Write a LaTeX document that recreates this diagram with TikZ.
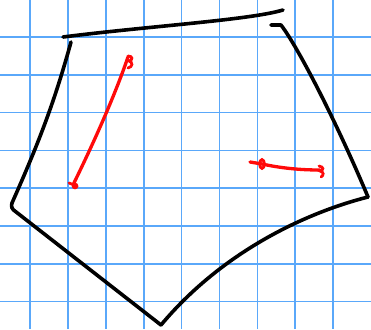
\documentclass[tikz,border=0pt]{standalone}
\usepackage{xcolor}
\usepackage{tikz}
\usetikzlibrary{calc}
\definecolor{gridblue}{HTML}{5AA8FA}
\definecolor{ink}{HTML}{000000}
\definecolor{pen}{HTML}{FF0A0A}
\tikzset{
  gridline/.style = {draw=gridblue, line width=1.7pt},
  outline/.style  = {draw=ink, line width=3.6pt, line cap=round, line join=round},
  redline/.style  = {draw=pen, line width=3.3pt, line cap=round, line join=round},
  curl/.style     = {draw=pen, line width=2.8pt, line cap=round},
  blob/.style     = {fill=pen, draw=pen, line width=1pt},
}

\begin{document}
\begin{tikzpicture}[x=1pt, y=-1pt]

  % Paper and grid
  \fill[white] (0,0) rectangle (371,329);
  \useasboundingbox (0,0) rectangle (371,329);
  \foreach \gx in {0,...,8}
    \draw[gridline] ({30+37.9*\gx},0) -- ({30+37.9*\gx},329);
  \foreach \gy in {0,...,7}
    \draw[gridline] (0,{37+37.8*\gy}) -- (371,{37+37.8*\gy});

  % Corners of the outline
  \coordinate (topl)  at (63,37);
  \coordinate (topr)  at (283,10);
  \coordinate (hook)  at (271,25);
  \coordinate (rtop)  at (281,25);
  \coordinate (rcorn) at (368,197);
  \coordinate (bot)   at (161,325);
  \coordinate (lcorn) at (11,208);
  \coordinate (ltop)  at (71,42);

  % Black outline, drawn in separate strokes
  \draw[outline] (topl) .. controls (150,26) and (250,20) .. (topr);
  \draw[outline] (hook) -- (rtop) .. controls (300,50) and (340,130) .. (rcorn);
  \draw[outline] (rcorn) .. controls (305,213) and (222,252) .. (bot);
  \draw[outline, rounded corners=3pt] (bot) -- (lcorn) -- (12,203);
  \draw[outline] (12,203) .. controls (40,140) and (55,100) .. (ltop);

  % Red strokes
  \coordinate (aend) at (73,185);
  \coordinate (atip) at (128,57);
  \draw[redline] (aend) .. controls (95,140) and (115,95) .. (atip);
  \draw[curl] (128,56) .. controls (133,56) and (133,60) .. (129,61)
              .. controls (133,62) and (133,67) .. (128,68);
  \draw[curl] (69,183) -- (77,186);
  \fill[blob] (75,186) circle (2.8);

  \coordinate (bstart) at (250,162);
  \coordinate (bend)   at (320,170);
  \draw[redline] (bstart) -- (262,164) .. controls (285,169) and (305,170) .. (bend);
  \draw[curl] (262,164) ellipse (2.4 and 4.4);
  \draw[curl] (319,166) .. controls (324,167) and (324,170) .. (320,171)
              .. controls (324,172) and (324,175) .. (321,177);

\end{tikzpicture}
\end{document}
